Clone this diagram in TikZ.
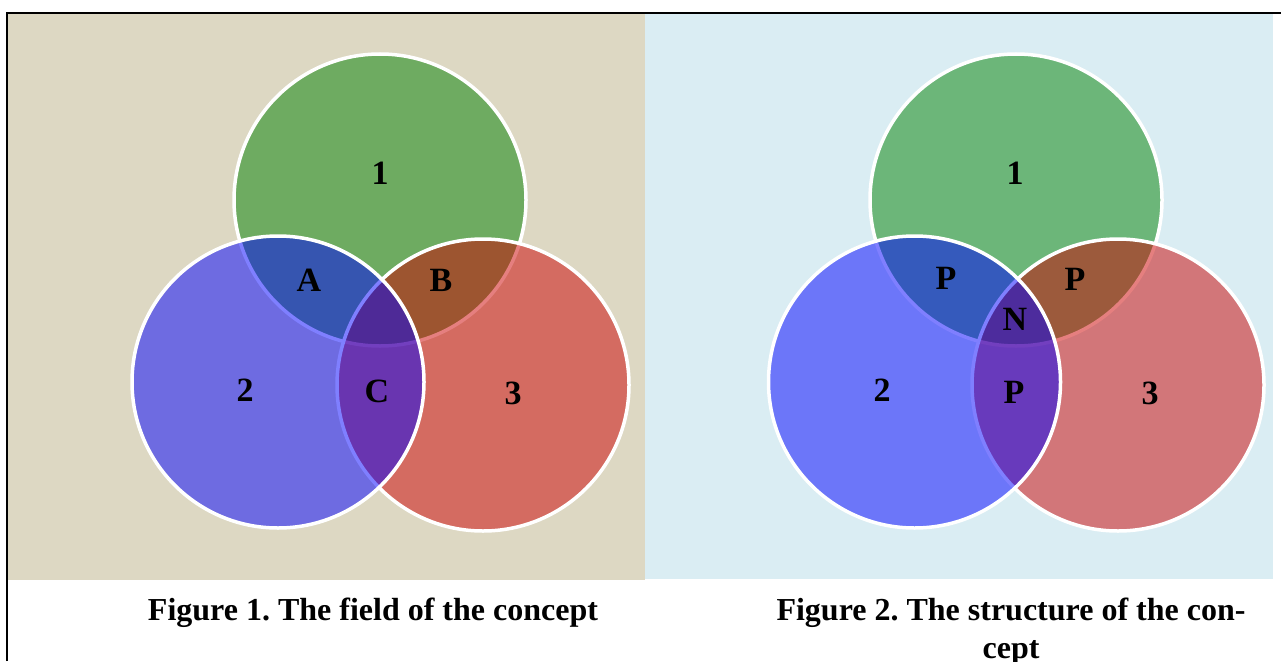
\documentclass[tikz,border=0pt]{standalone}
\usepackage{fontspec}
\setmainfont{Liberation Serif}
\frenchspacing
\definecolor{beige}{RGB}{221,216,195}
\definecolor{paleblue}{RGB}{218,237,243}
\definecolor{vgreen}{RGB}{0,128,0}
\definecolor{vred}{RGB}{204,0,0}
\definecolor{vblue}{RGB}{0,0,255}
\tikzset{
  venn/.style={circle, minimum size=292pt, inner sep=0pt, draw=white, line width=3.5pt, fill opacity=0.5, draw opacity=1},
  lab/.style={font=\fontsize{34}{34}\selectfont\bfseries, anchor=base, inner sep=0pt},
  captext/.style={font=\fontsize{32}{38}\selectfont\bfseries, inner sep=0pt, align=center}
}
\begin{document}
\begin{tikzpicture}[x=1pt,y=-1pt]
\useasboundingbox (0,0) rectangle (1281,661);
\fill[white] (0,0) rectangle (1281,661);
% panels
\fill[beige] (8,13) rectangle (645,580);
\fill[paleblue] (645,13) rectangle (1273,579);
% frame
\draw[black, line width=2pt] (7,661) -- (7,13) -- (1281,13);
% left diagram
\node[venn, fill=vgreen] (g1) at (380,200) {};
\node[venn, fill=vred] (r1) at (483,385) {};
\node[venn, fill=vblue] (b1) at (278,382) {};
\node[lab] (l1) at (380,184) {1};
\node[lab] (lA) at (309,291) {A};
\node[lab] (lB) at (441,291) {B};
\node[lab] (l2) at (245,401) {2};
\node[lab] (lC) at (377,402) {C};
\node[lab] (l3) at (513,404) {3};
% right diagram
\node[venn, fill=vgreen] (g2) at (1016,200) {};
\node[venn, fill=vred] (r2) at (1118,385) {};
\node[venn, fill=vblue] (b2) at (914.5,382) {};
\node[lab] (m1) at (1015,184) {1};
\node[lab] (mP1) at (946,289) {P};
\node[lab] (mP2) at (1075,290) {P};
\node[lab] (mN) at (1015,330) {N};
\node[lab] (m2) at (882,401) {2};
\node[lab] (mP3) at (1014,403) {P};
\node[lab] (m3) at (1150,404) {3};
% captions
\node[captext, anchor=base] (c1) at (373,620) {Figure 1. The field of the concept};
\node[captext, anchor=base] (c2a) at (1011,620) {Figure 2. The structure of the con-};
\node[captext, anchor=base] (c2b) at (1011,658) {cept};
\end{tikzpicture}
\end{document}
